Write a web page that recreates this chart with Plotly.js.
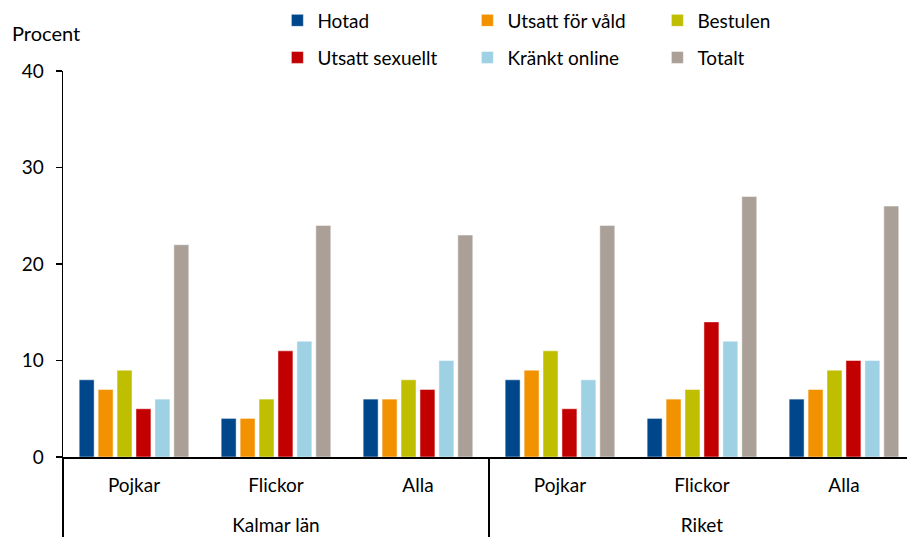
<!DOCTYPE html>
<html>
<head>
<meta charset="utf-8">
<script src="https://cdn.plot.ly/plotly-3.0.1.min.js"></script>
<style>html,body{margin:0;padding:0;background:#fff;}#chart{width:907px;height:539px;}</style>
</head>
<body>
<div id="chart"></div>
<script>
const regions = ["Kalmar län","Kalmar län","Kalmar län","Riket","Riket","Riket"];
const groups = ["Pojkar","Flickor","Alla","Pojkar","Flickor","Alla"];
const seriesNames = ["Hotad","Utsatt för våld","Bestulen","Utsatt sexuellt","Kränkt online","Totalt"];
const hotad = [8,4,6,8,4,6];
const utsattVald = [7,4,6,9,6,7];
const bestulen = [9,6,8,11,7,9];
const utsattSexuellt = [5,11,7,5,14,10];
const kranktOnline = [6,12,10,8,12,10];
const totalt = [22,24,23,24,27,26];
const yTicks = [0,10,20,30,40];

const values = [hotad, utsattVald, bestulen, utsattSexuellt, kranktOnline, totalt];
const colors = ["#00468b","#f39200","#bfbe00","#c20000","#9fd1e4","#aaa097"];
const legendIds = ["legend","legend","legend","legend2","legend2","legend2"];
const FONT = "Lato, 'DejaVu Sans', sans-serif";
const FS = 19;

// first-level labels get an empty second line to open up space before the region labels
const groupLabels = groups.map(g => g + "<br> ");

const traces = values.map((v,i)=>({
  type:"bar",
  name: seriesNames[i],
  x:[regions, groupLabels],
  y:v,
  marker:{color:colors[i], line:{color:"rgba(255,255,255,0.6)", width:0.8}},
  legend: legendIds[i],
  hoverinfo:"y+name"
}));

const legendBase = {
  orientation:"h",
  xanchor:"left", yanchor:"top",
  entrywidth:145, entrywidthmode:"pixels",
  font:{family:FONT, size:FS, color:"#000"},
  bgcolor:"rgba(0,0,0,0)",
  itemwidth:30,
  traceorder:"normal"
};

const layout = {
  width:907, height:539,
  margin:{l:63, r:0, t:71, b:82},
  paper_bgcolor:"#fff", plot_bgcolor:"#fff",
  font:{family:FONT, size:FS, color:"#000"},
  barmode:"group",
  bargap:0.2,
  bargroupgap:0.21,
  showlegend:true,
  legend: Object.assign({}, legendBase, {x:0.254, y:1.18}),
  legend2: Object.assign({}, legendBase, {x:0.254, y:1.084}),
  xaxis:{
    type:"multicategory",
    range:[-0.5, 5.444],
    showline:true, linecolor:"#000", linewidth:2,
    ticks:"", showgrid:false, zeroline:false,
    showdividers:true, dividercolor:"#000", dividerwidth:1.5,
    ticklabelstandoff:10,
    tickfont:{family:FONT, size:FS, color:"#000"}
  },
  yaxis:{
    range:[0,40],
    tickvals:yTicks,
    ticktext:yTicks.map(String),
    ticks:"outside", ticklen:6, tickwidth:1.5, tickcolor:"#000",
    showline:true, linecolor:"#000", linewidth:1.5,
    showgrid:false, zeroline:false,
    ticklabelstandoff:8,
    tickfont:{family:FONT, size:FS, color:"#000"}
  },
  annotations:[{
    text:"Procent", xref:"paper", yref:"paper",
    x:-0.063, y:1.098, xanchor:"left", yanchor:"middle",
    showarrow:false, font:{family:FONT, size:FS+1, color:"#000"}
  }]
};

Plotly.newPlot("chart", traces, layout, {displayModeBar:false, staticPlot:true});
</script>
</body>
</html>
